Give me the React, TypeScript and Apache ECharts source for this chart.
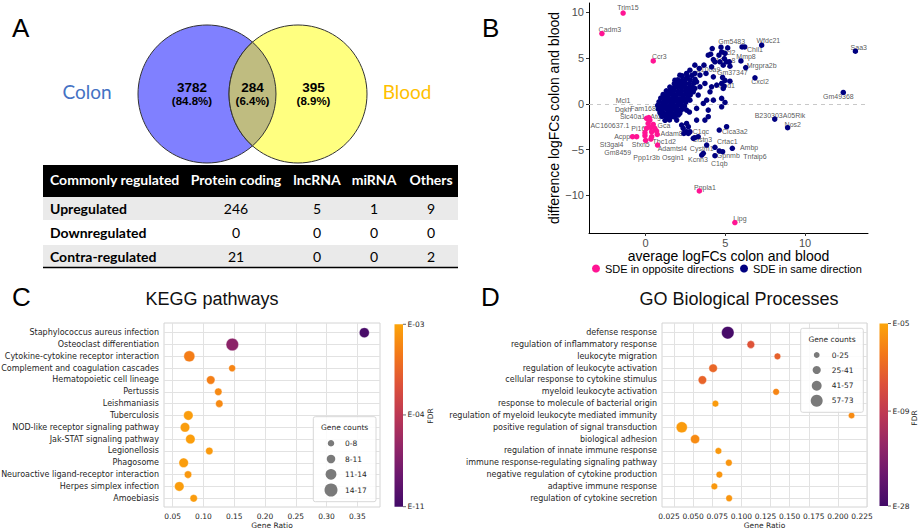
import React, { useEffect, useRef } from "react";
import * as echarts from "echarts";

// ---------------- Panel A data ----------------
const vennSets = ["Colon", "Blood"];
const vennCounts = [3782, 284, 395];
const vennPercents = ["(84.8%)", "(6.4%)", "(8.9%)"];
const tableHeader = ["Commonly regulated", "Protein coding", "lncRNA", "miRNA", "Others"];
const tableRowNames = ["Upregulated", "Downregulated", "Contra-regulated"];
const tableValues = [
  [246, 5, 1, 9],
  [0, 0, 0, 0],
  [21, 0, 0, 2],
];

// ---------------- Panel B data ----------------
const oppositeDirection: number[][] = [
  [-1.41, 9.9], [-2.74, 7.67], [0.48, 4.68], [3.37, -9.51], [5.6, -12.96],
  [0.06, -1.59], [0.27, -1.78], [0.16, -2.14], [0.48, -2.25], [0.31, -2.57],
  [0.06, -2.68], [0.58, -2.68], [0.69, -2.97], [0.38, -3.05], [0.73, -3.34],
  [-0.04, -3.48], [0.38, -3.59], [-0.82, -3.59], [-0.56, -3.59], [0.0, -3.99],
  [0.33, -3.85], [0.75, -4.5], [0.2, -1.5], [-0.04, -3.16],
];
const sameDirection: number[][] = [
  [2.3, 3.05], [2.62, 2.95], [2.9, 3.1],
  [2.02, 2.62], [2.28, 2.55], [2.52, 2.7], [2.8, 2.6], [3.1, 2.68],
  [1.8, 2.2], [2.05, 2.28], [2.24, 2.12], [2.5, 2.25], [2.74, 2.18], [3.02, 2.25],
  [1.52, 1.82], [1.76, 1.75], [1.98, 1.88], [2.2, 1.78], [2.46, 1.85], [2.68, 1.72], [2.94, 1.8],
  [1.3, 1.42], [1.55, 1.38], [1.78, 1.47], [2.02, 1.35], [2.26, 1.44], [2.5, 1.36], [2.72, 1.45], [2.92, 1.38],
  [1.1, 1.02], [1.36, 0.96], [1.6, 1.05], [1.84, 0.98], [2.06, 1.06], [2.3, 0.95], [2.56, 1.03], [2.8, 0.97],
  [0.95, 0.62], [1.2, 0.56], [1.44, 0.65], [1.7, 0.58], [1.92, 0.64], [2.14, 0.55], [2.4, 0.63], [2.66, 0.57],
  [0.84, 0.22], [1.08, 0.16], [1.32, 0.24], [1.56, 0.18], [1.78, 0.25], [2.02, 0.15], [2.26, 0.22], [2.52, 0.17],
  [0.76, -0.18], [1.0, -0.24], [1.24, -0.16], [1.48, -0.22], [1.72, -0.15], [1.96, -0.23], [2.2, -0.17], [2.44, -0.24],
  [0.8, -0.58], [1.04, -0.64], [1.3, -0.56], [1.52, -0.62], [1.76, -0.55], [2.02, -0.63], [2.3, -0.58],
  [0.9, -0.98], [1.16, -1.04], [1.4, -0.96], [1.64, -1.03], [1.9, -0.97], [2.14, -1.05],
  [1.02, -1.38], [1.3, -1.44], [1.56, -1.36], [1.84, -1.42],
  [1.22, -1.8], [1.5, -1.76],
  [1.2, 0.8], [1.5, 0.4], [1.9, 0.4], [2.35, 0.4], [1.65, -0.4], [1.1, -0.4], [2.1, 1.2], [1.6, 1.6],
  [2.6, 1.55], [2.4, 2.0], [1.9, -0.75], [1.4, -1.2],
  [4.18, 6.03], [4.73, 6.18], [5.15, 6.1], [4.77, 5.66], [4.08, 5.41], [4.6, 5.3], [4.98, 5.49], [3.93, 5.3],
  [4.94, 4.94], [4.25, 4.83], [4.35, 4.58], [4.66, 4.58], [5.08, 4.58], [5.25, 4.58], [4.87, 4.22], [5.29, 4.11],
  [4.14, 4.03], [3.66, 4.22], [3.09, 4.22], [3.37, 3.86], [2.78, 3.67], [2.57, 3.31], [3.09, 3.31], [3.41, 3.13],
  [3.79, 3.31], [4.25, 2.94], [4.83, 2.87], [4.98, 2.55], [5.29, 2.47], [4.77, 2.22], [4.46, 2.04], [4.14, 1.85],
  [3.72, 2.22], [3.2, 2.4], [2.15, 3.12], [1.84, 2.58], [3.41, 1.85], [3.09, 1.68], [4.04, 1.31], [3.62, 0.04],
  [3.2, -0.5], [2.99, 1.31], [3.3, 0.95], [2.78, 0.4], [3.83, 0.4], [4.25, 0.4], [4.77, 0.59], [4.98, 0.15],
  [4.87, 1.68], [4.92, 1.93], [4.77, -0.33], [3.93, -0.69], [2.57, -0.69], [2.75, -0.9], [2.15, -0.87],
  [7.28, 6.39], [6.05, 6.2], [6.22, 6.2], [5.98, 4.68], [6.28, 3.96], [6.86, 2.83], [13.16, 5.74], [12.4, 1.24],
  [8.1, -1.67], [8.91, -2.61],
  [3.72, -1.78], [3.93, -1.41], [2.57, -2.14], [2.68, -2.5], [2.36, -2.68], [2.78, -3.05], [3.09, -3.7], [3.3, -3.59],
  [4.62, -2.87], [5.08, -2.5], [3.83, -4.5], [4.35, -4.75], [4.62, -5.15], [4.83, -5.23], [5.44, -4.86], [4.35, -5.66],
  [3.62, -5.4], [3.52, -5.59], [2.99, -3.77], [2.57, -3.05], [3.2, -1.78], [1.95, -1.78], [2.26, -2.32], [2.4, -3.23],
  [2.68, -3.23], [2.05, -1.23], [1.73, -1.41],
];
const geneLabels: { name: string; value: number[] }[] = [
  { name: "Trim15", value: [-1.11, 10.5] }, { name: "Cadm3", value: [-2.24, 8.1] }, { name: "Ccr3", value: [0.86, 5.12] },
  { name: "Gm5483", value: [5.4, 6.83] }, { name: "Wfdc21", value: [7.7, 6.86] }, { name: "Chil1", value: [6.86, 5.92] },
  { name: "Ccl2", value: [5.19, 5.6] }, { name: "Mmp8", value: [6.3, 5.2] }, { name: "S100a8", value: [4.87, 4.68] },
  { name: "Mrgpra2b", value: [7.28, 4.22] }, { name: "S100a9", value: [3.93, 3.78] }, { name: "Gm37347", value: [5.44, 3.38] },
  { name: "Cxcl2", value: [7.18, 2.4] }, { name: "Acod1", value: [4.98, 2.04] }, { name: "Saa3", value: [13.37, 6.18] },
  { name: "Gm49368", value: [12.09, 0.76] }, { name: "B230303A05Rik", value: [8.43, -1.23] }, { name: "Nos2", value: [9.23, -2.21] },
  { name: "Mcl1", value: [-1.41, 0.4] }, { name: "Dgkh", value: [-1.41, -0.58] }, { name: "Fam168b", value: [-0.04, -0.54] },
  { name: "Slc40a1", value: [-0.82, -1.41] }, { name: "Atg7", value: [0.75, -1.41] }, { name: "AC160637.1", value: [-2.24, -2.4] },
  { name: "Gca", value: [1.15, -2.32] }, { name: "Pi16", value: [-0.46, -2.68] }, { name: "Adam8", value: [1.63, -3.23] },
  { name: "C1qc", value: [3.47, -2.97] }, { name: "Clca3a2", value: [5.6, -2.97] }, { name: "Acpp", value: [-1.47, -3.59] },
  { name: "Tbc1d2", value: [1.17, -4.1] }, { name: "Clstn3", value: [3.55, -3.95] }, { name: "Crtac1", value: [5.12, -4.06] },
  { name: "Ambp", value: [6.49, -4.75] }, { name: "Tnfaip6", value: [6.86, -5.7] }, { name: "Gpnmb", value: [5.19, -5.59] },
  { name: "C1qb", value: [4.62, -6.5] }, { name: "Kcnn3", value: [3.28, -6.13] }, { name: "Cystm1", value: [3.52, -4.93] },
  { name: "Osgin1", value: [1.73, -5.84] }, { name: "Ppp1r3b", value: [0.06, -5.84] }, { name: "Gm8459", value: [-1.75, -5.34] },
  { name: "St3gal4", value: [-2.13, -4.43] }, { name: "Sfxn5", value: [-0.3, -4.43] }, { name: "Adamtsl4", value: [1.67, -4.93] },
  { name: "Pnpla1", value: [3.72, -9.1] }, { name: "Lipg", value: [5.92, -12.53] },
];
const bXTicks = [0, 5, 10];
const bYTicks = [-10, -5, 0, 5, 10];
const bSeriesNames = ["SDE in opposite directions", "SDE in same direction"];

// ---------------- Panel C data ----------------
const keggPathways = [
  "Staphylococcus aureus infection", "Osteoclast differentiation", "Cytokine-cytokine receptor interaction",
  "Complement and coagulation cascades", "Hematopoietic cell lineage", "Pertussis", "Leishmaniasis", "Tuberculosis",
  "NOD-like receptor signaling pathway", "Jak-STAT signaling pathway", "Legionellosis", "Phagosome",
  "Neuroactive ligand-receptor interaction", "Herpes simplex infection", "Amoebiasis",
];
const keggRatio = [0.3614, 0.1469, 0.077, 0.1466, 0.1118, 0.1241, 0.1257, 0.0754, 0.07, 0.0787, 0.1095, 0.0678, 0.0749, 0.0607, 0.0841];
const keggCount = [11, 16, 13, 5, 8, 6, 6, 10, 10, 10, 6, 10, 6, 10, 6];
const keggFdrExp = [-10.6, -6.8, -3.3, -3.24, -3.28, -3.2, -3.2, -3.06, -3.06, -3.05, -3.08, -3.06, -3.1, -3.06, -3.07];
const keggXTicks = [0.05, 0.1, 0.15, 0.2, 0.25, 0.3, 0.35];
const keggFdrTicks = ["E-03", "E-04", "E-11"];
const keggFdrTickExp = [-3, -4, -11];
const keggFdrTickPos = [1, 0.503, 0];
const keggCountBins = ["0-8", "8-11", "11-14", "14-17"];
const keggCountBinRep = [4, 8, 12.5, 17];

// ---------------- Panel D data ----------------
const goProcesses = [
  "defense response", "regulation of inflammatory response", "leukocyte migration", "regulation of leukocyte activation",
  "cellular response to cytokine stimulus", "myeloid leukocyte activation", "response to molecule of bacterial origin",
  "regulation of myeloid leukocyte mediated immunity", "positive regulation of signal transduction", "biological adhesion",
  "regulation of innate immune response", "immune response-regulating signaling pathway",
  "negative regulation of cytokine production", "adaptive immune response", "regulation of cytokine secretion",
];
const goRatio = [0.0859, 0.1098, 0.1374, 0.0707, 0.0596, 0.136, 0.0731, 0.2142, 0.0382, 0.052, 0.0762, 0.087, 0.0772, 0.072, 0.0873];
const goCount = [73, 30, 20, 36, 36, 20, 20, 18, 60, 42, 20, 21, 20, 20, 20];
const goFdrExp = [-27.3, -7.7, -7.2, -7.0, -7.1, -6.0, -5.3, -5.8, -5.3, -5.8, -5.4, -5.5, -5.5, -5.4, -5.5];
const goXTicks = [0.025, 0.05, 0.075, 0.1, 0.125, 0.15, 0.175, 0.2, 0.225];
const goFdrTicks = ["E-05", "E-09", "E-28"];
const goFdrTickExp = [-5, -9, -28];
const goFdrTickPos = [1, 0.52, 0];
const goCountBins = ["0-25", "25-41", "41-57", "57-73"];
const goCountBinRep = [12, 33, 49, 68];

// palette (inferno section), bottom -> top of colour bar
const fdrPalette = ["#420A68", "#6A176E", "#932667", "#BC3754", "#DD513A", "#F37819", "#FCA50A"];

const FONT_R = "'Liberation Sans', Arial, sans-serif";
const FONT_M = "'DejaVu Sans', sans-serif";
const FONT_O = "Lato, 'Open Sans', sans-serif";

const keggSize = (c: number) => 4.5 + 0.5 * c;
const goSize = (c: number) => 4.5 + 0.11 * c;

function colorPos(exp: number, tickExps: number[], tickPos: number[]) {
  for (let i = 0; i < tickExps.length - 1; i++) {
    const a = tickExps[i];
    const b = tickExps[i + 1];
    if (exp <= a && exp >= b) return tickPos[i] + ((tickPos[i + 1] - tickPos[i]) * (a - exp)) / (a - b);
  }
  return exp > tickExps[0] ? tickPos[0] : tickPos[tickPos.length - 1];
}

// Venn geometry
const C1 = { x: 207, y: 94 };
const C2 = { x: 298, y: 94 };
const VR = 69;
const half = (C2.x - C1.x) / 2;
const hh = Math.sqrt(VR * VR - half * half);
const mx = C1.x + half;
const lensD = `M${mx} ${C1.y - hh} A${VR} ${VR} 0 0 1 ${mx} ${C1.y + hh} A${VR} ${VR} 0 0 1 ${mx} ${C1.y - hh} Z`;
let lensRegistered = false;
function ensureLens() {
  if (lensRegistered) return;
  echarts.graphic.registerShape("vennLens", echarts.graphic.extendPath(lensD, {}) as any);
  lensRegistered = true;
}

function txt(x: number, y: number, text: string, o: any = {}) {
  const align = o.align || "left";
  const va = o.va || "middle";
  return {
    type: "text",
    x,
    y,
    rotation: o.rotation || 0,
    silent: true,
    z: 100,
    style: {
      text,
      fill: o.color || "#000",
      fontSize: o.size || 12,
      fontFamily: o.family || FONT_R,
      fontWeight: o.weight || "normal",
      lineHeight: o.lineHeight,
      align,
      verticalAlign: va,
      textAlign: align,
      textVerticalAlign: va,
    },
  };
}

function buildGraphic() {
  const els: any[] = [];
  // panel letters
  els.push(txt(12, 28, "A", { size: 26 }));
  els.push(txt(482, 28, "B", { size: 26 }));
  els.push(txt(12, 297, "C", { size: 26 }));
  els.push(txt(481, 297, "D", { size: 26 }));

  // Venn
  els.push({ type: "circle", shape: { cx: C1.x, cy: C1.y, r: VR }, style: { fill: "#8080FF", stroke: "#333", lineWidth: 1 }, z: 10 });
  els.push({ type: "circle", shape: { cx: C2.x, cy: C2.y, r: VR }, style: { fill: "#FFFF80", stroke: "#333", lineWidth: 1 }, z: 11 });
  els.push({ type: "vennLens", x: 0, y: 0, style: { fill: "#BFBC80", stroke: "#333", lineWidth: 1 }, z: 12 });
  els.push(txt(87, 91, vennSets[0], { size: 19, color: "#4472C4", family: FONT_O, align: "center" }));
  els.push(txt(407, 91, vennSets[1], { size: 19, color: "#FFC000", family: FONT_O, align: "center" }));
  const vx = [192, 252.5, 313.5];
  vennCounts.forEach((c, i) => {
    els.push(txt(vx[i], 87, String(c), { size: 13.5, weight: "bold", align: "center", lineHeight: 14 }));
    els.push(txt(vx[i], 101, vennPercents[i], { size: 11.5, weight: "bold", align: "center", lineHeight: 12 }));
  });

  // Table
  const tL = 43;
  const tR = 458;
  els.push({ type: "rect", shape: { x: tL, y: 165, width: tR - tL, height: 32 }, style: { fill: "#000" }, z: 10 });
  els.push({ type: "rect", shape: { x: tL, y: 197, width: tR - tL, height: 23 }, style: { fill: "#EAEAEA" }, z: 10 });
  els.push({ type: "rect", shape: { x: tL, y: 245, width: tR - tL, height: 22 }, style: { fill: "#EAEAEA" }, z: 10 });
  els.push({ type: "line", shape: { x1: tL, y1: 267.5, x2: tR, y2: 267.5 }, style: { stroke: "#000", lineWidth: 1.5 }, z: 11 });
  const colX = [236, 317, 374, 431];
  els.push(txt(50, 179, tableHeader[0], { size: 14, weight: "bold", color: "#fff", family: FONT_O }));
  tableHeader.slice(1).forEach((h, i) => els.push(txt(colX[i], 179, h, { size: 14, weight: "bold", color: "#fff", family: FONT_O, align: "center" })));
  const rowY = [208.5, 232.5, 256.5];
  tableRowNames.forEach((r, ri) => {
    els.push(txt(50, rowY[ri], r, { size: 14, weight: "bold", family: FONT_O }));
    tableValues[ri].forEach((v, ci) => els.push(txt(colX[ci], rowY[ri], String(v), { size: 14, family: FONT_O, align: "center" })));
  });

  // Titles C / D
  els.push(txt(212, 299, "KEGG pathways", { size: 18, align: "center", color: "#111" }));
  els.push(txt(739, 299, "GO Biological Processes", { size: 18, align: "center", color: "#111" }));

  // colour bars
  const bars = [
    { x: 394.5, y: 324.3, h: 182.4, ticks: keggFdrTicks, pos: keggFdrTickPos, fdrX: 430, fdrY: 416 },
    { x: 879.5, y: 323.5, h: 182.5, ticks: goFdrTicks, pos: goFdrTickPos, fdrX: 914, fdrY: 418 },
  ];
  bars.forEach((b) => {
    const stops = fdrPalette
      .slice()
      .reverse()
      .map((c, i) => ({ offset: i / (fdrPalette.length - 1), color: c }));
    els.push({
      type: "rect",
      shape: { x: b.x, y: b.y, width: 8.5, height: b.h },
      style: { fill: new echarts.graphic.LinearGradient(0, 0, 0, 1, stops) },
      z: 10,
    });
    b.ticks.forEach((t, i) => {
      const ty = b.y + (1 - b.pos[i]) * b.h;
      els.push({ type: "line", shape: { x1: b.x + 8.5, y1: ty, x2: b.x + 11.5, y2: ty }, style: { stroke: "#444", lineWidth: 0.8 }, z: 11 });
      els.push(txt(b.x + 13, ty, t, { size: 7.5, family: FONT_M, color: "#262626" }));
    });
    els.push(txt(b.fdrX, b.fdrY, "FDR", { size: 7.5, family: FONT_M, color: "#262626", align: "center", rotation: Math.PI / 2 }));
  });

  // gene count legends
  const legs = [
    { x: 313.3, y: 416.7, w: 62.7, h: 85, titleY: 427, cx: 331, ys: [443.3, 459, 474.3, 490], lx: 345, bins: keggCountBins, reps: keggCountBinRep, size: keggSize },
    { x: 800.7, y: 328.3, w: 62.6, h: 84, titleY: 339.3, cx: 816.7, ys: [355, 370, 385.7, 400.7], lx: 831.7, bins: goCountBins, reps: goCountBinRep, size: goSize },
  ];
  legs.forEach((l) => {
    els.push({ type: "rect", shape: { x: l.x, y: l.y, width: l.w, height: l.h, r: 2 }, style: { fill: "rgba(255,255,255,0.85)", stroke: "#D8D8D8", lineWidth: 1 }, z: 20 });
    els.push(txt(l.x + l.w / 2, l.titleY, "Gene counts", { size: 7.5, family: FONT_M, color: "#262626", align: "center" }));
    l.bins.forEach((b, i) => {
      els.push({ type: "circle", shape: { cx: l.cx, cy: l.ys[i], r: l.size(l.reps[i]) / 2 }, style: { fill: "#7A7A7A" }, z: 21 });
      els.push(txt(l.lx, l.ys[i], b, { size: 7.5, family: FONT_M, color: "#262626" }));
    });
  });
  return els;
}

function gridLinesMark(xTicks: number[], nRows: number) {
  return {
    silent: true,
    symbol: ["none", "none"],
    label: { show: false },
    emphasis: { disabled: true },
    lineStyle: { color: "#E2E2E2", width: 1, type: "solid" },
    data: [...xTicks.map((v) => ({ xAxis: v })), ...Array.from({ length: nRows }, (_, i) => ({ yAxis: i }))],
  };
}

export default function App() {
  const ref = useRef<HTMLDivElement>(null);
  useEffect(() => {
    if (!ref.current) return;
    ensureLens();
    const chart = echarts.init(ref.current, undefined, { renderer: "svg" });
    const tickStyleB = { fontSize: 11, color: "#4D4D4D", fontFamily: FONT_R };
    const mplLabel = { fontSize: 7.5, color: "#262626", fontFamily: FONT_M };
    const option: any = {
      animation: false,
      backgroundColor: "#fff",
      grid: [
        { left: 589, top: 3, width: 279, height: 230, containLabel: false, outerBoundsMode: "none" },
        { left: 164, top: 323, width: 216, height: 184, show: true, borderColor: "#D4D4D4", borderWidth: 1, backgroundColor: "#fff", containLabel: false, outerBoundsMode: "none" },
        { left: 662, top: 323, width: 205, height: 184, show: true, borderColor: "#D4D4D4", borderWidth: 1, backgroundColor: "#fff", containLabel: false, outerBoundsMode: "none" },
      ],
      legend: {
        data: bSeriesNames,
        left: 592,
        top: 263,
        icon: "circle",
        itemWidth: 8,
        itemHeight: 8,
        itemGap: 6,
        padding: 0,
        textStyle: { fontSize: 11, color: "#000", fontFamily: FONT_R },
        selectedMode: false,
      },
      xAxis: [
        {
          gridIndex: 0, type: "value", min: -3.55, max: 13.95,
          axisLine: { show: true, onZero: false, lineStyle: { color: "#000", width: 1 } },
          axisTick: { show: true, length: 3, customValues: bXTicks, lineStyle: { color: "#333" } },
          axisLabel: { customValues: bXTicks, margin: 4, ...tickStyleB },
          splitLine: { show: false },
          name: "average logFCs colon and blood", nameLocation: "middle", nameGap: 12,
          nameTextStyle: { fontSize: 14, color: "#000", fontFamily: FONT_R },
        },
        {
          gridIndex: 1, type: "value", min: 0.03586, max: 0.3869,
          axisLine: { show: false }, axisTick: { show: false },
          axisLabel: { customValues: keggXTicks, margin: 5, formatter: (v: number) => v.toFixed(2), ...mplLabel },
          splitLine: { show: false },
          name: "Gene Ratio", nameLocation: "middle", nameGap: 14, nameTextStyle: { ...mplLabel },
        },
        {
          gridIndex: 2, type: "value", min: 0.01773, max: 0.2302,
          axisLine: { show: false }, axisTick: { show: false },
          axisLabel: { customValues: goXTicks, margin: 5, formatter: (v: number) => v.toFixed(3), ...mplLabel },
          splitLine: { show: false },
          name: "Gene Ratio", nameLocation: "middle", nameGap: 14, nameTextStyle: { ...mplLabel },
        },
      ],
      yAxis: [
        {
          gridIndex: 0, type: "value", min: -14.1, max: 11,
          axisLine: { show: true, onZero: false, lineStyle: { color: "#000", width: 1 } },
          axisTick: { show: true, length: 3, customValues: bYTicks, lineStyle: { color: "#333" } },
          axisLabel: { customValues: bYTicks, margin: 5, formatter: (v: number) => (v < 0 ? "\u2212" + Math.abs(v) : String(v)), ...tickStyleB },
          splitLine: { show: false },
          name: "difference logFCs colon and blood", nameLocation: "middle", nameGap: 24,
          nameTextStyle: { fontSize: 14, color: "#000", fontFamily: FONT_R },
        },
        {
          gridIndex: 1, type: "value", inverse: true, min: -0.82, max: 14.74,
          axisLine: { show: false }, axisTick: { show: false }, splitLine: { show: false },
          axisLabel: {
            customValues: keggPathways.map((_, i) => i), margin: 5,
            formatter: (v: number) => keggPathways[Math.round(v)] || "",
            fontSize: 8, color: "#262626", fontFamily: FONT_M,
          },
        },
        {
          gridIndex: 2, type: "value", inverse: true, min: -0.82, max: 14.74,
          axisLine: { show: false }, axisTick: { show: false }, splitLine: { show: false },
          axisLabel: {
            customValues: goProcesses.map((_, i) => i), margin: 5,
            formatter: (v: number) => goProcesses[Math.round(v)] || "",
            fontSize: 8, color: "#262626", fontFamily: FONT_M,
          },
        },
      ],
      visualMap: [
        { type: "continuous", show: false, seriesIndex: [3, 4], dimension: 2, min: 0, max: 1, inRange: { color: fdrPalette } },
      ],
      series: [
        {
          name: bSeriesNames[0], type: "scatter", xAxisIndex: 0, yAxisIndex: 0, z: 10,
          data: oppositeDirection, symbolSize: 5.5, itemStyle: { color: "#FF1493", opacity: 1 }, silent: true,
        },
        {
          name: bSeriesNames[1], type: "scatter", xAxisIndex: 0, yAxisIndex: 0, z: 9,
          data: sameDirection, symbolSize: 5.5, itemStyle: { color: "#000080", opacity: 1 }, silent: true,
          markLine: {
            silent: true, symbol: ["none", "none"], label: { show: false },
            lineStyle: { color: "#C8C8C8", width: 1, type: [4, 4] },
            data: [{ yAxis: 0 }],
          },
        },
        {
          name: "labels", type: "scatter", xAxisIndex: 0, yAxisIndex: 0, z: 5, silent: true,
          data: geneLabels, symbolSize: 1, itemStyle: { color: "rgba(0,0,0,0)" },
          label: {
            show: true, position: "top", distance: -4, formatter: "{b}", fontSize: 7, color: "#2B2B2B",
            fontFamily: FONT_R, textBorderWidth: 0,
          },
        },
        {
          name: "KEGG", type: "scatter", xAxisIndex: 1, yAxisIndex: 1, z: 10, silent: true,
          data: keggPathways.map((_, i) => [keggRatio[i], i, colorPos(keggFdrExp[i], keggFdrTickExp, keggFdrTickPos), keggCount[i]]),
          symbolSize: (v: number[]) => keggSize(v[3]),
          itemStyle: { opacity: 1, borderColor: "#fff", borderWidth: 0.4 },
          markLine: gridLinesMark(keggXTicks, keggPathways.length),
        },
        {
          name: "GO", type: "scatter", xAxisIndex: 2, yAxisIndex: 2, z: 10, silent: true,
          data: goProcesses.map((_, i) => [goRatio[i], i, colorPos(goFdrExp[i], goFdrTickExp, goFdrTickPos), goCount[i]]),
          symbolSize: (v: number[]) => goSize(v[3]),
          itemStyle: { opacity: 1, borderColor: "#fff", borderWidth: 0.4 },
          markLine: gridLinesMark(goXTicks, goProcesses.length),
        },
      ],
      graphic: { elements: buildGraphic() },
    };
    chart.setOption(option);
    return () => chart.dispose();
  }, []);
  return <div ref={ref} style={{ position: "absolute", left: 0, top: 0, width: 920, height: 530 }} />;
}
